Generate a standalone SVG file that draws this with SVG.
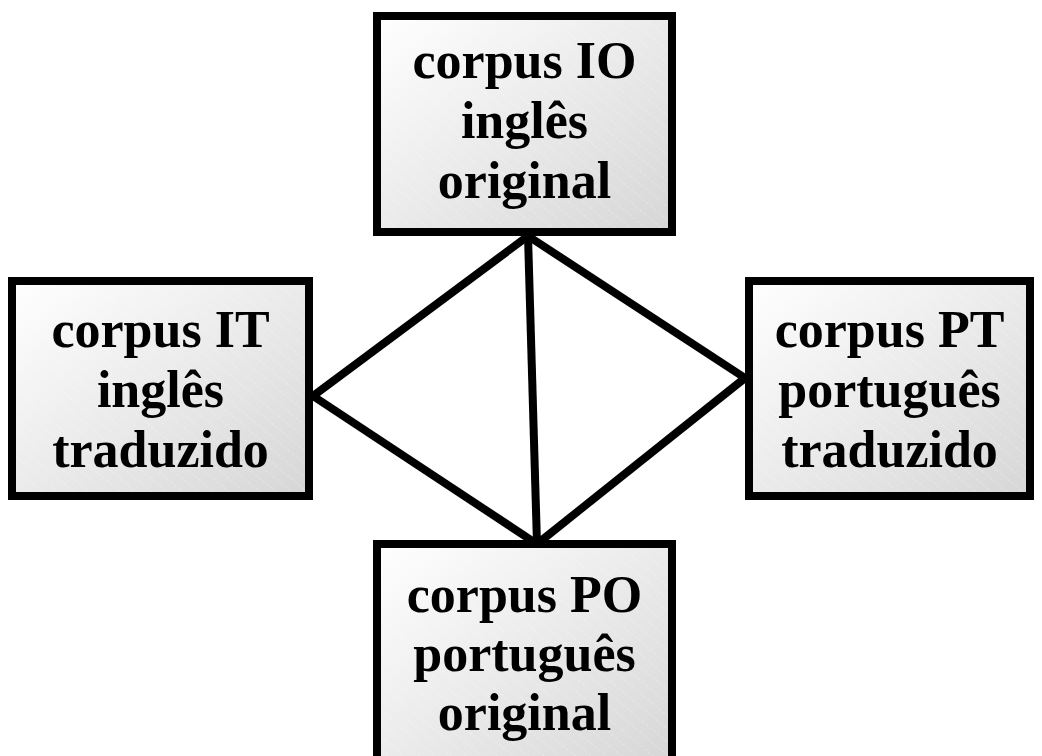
<svg xmlns="http://www.w3.org/2000/svg" width="1042" height="756" viewBox="0 0 1042 756">
  <defs>
    <linearGradient id="boxFill" x1="0" y1="0" x2="1" y2="1">
      <stop offset="0" stop-color="#ffffff"/>
      <stop offset="1" stop-color="#d6d6d6"/>
    </linearGradient>
    <pattern id="hatch" width="10" height="10" patternUnits="userSpaceOnUse" patternTransform="rotate(-50)">
      <line x1="0" y1="0" x2="0" y2="10" stroke="#ffffff" stroke-width="1" stroke-dasharray="3 2" stroke-opacity="0.5"/>
    </pattern>
  </defs>
  <style>
    .box { fill: url(#boxFill); stroke: #000; stroke-width: 8; }
    .hatch { fill: url(#hatch); stroke: none; }
    .label { font-family: "Liberation Serif", "Times New Roman", serif; font-weight: bold; font-size: 52px; fill: #000; text-anchor: middle; }
    .link { stroke: #000; stroke-width: 8; fill: none; }
  </style>
  <rect width="1042" height="756" fill="#ffffff"/>

  <!-- connectors -->
  <g id="connectors">
    <line class="link" x1="528" y1="236" x2="313" y2="396"/>
    <line class="link" x1="528" y1="236" x2="745" y2="378"/>
    <line class="link" x1="528" y1="236" x2="537" y2="544"/>
    <line class="link" x1="313" y1="396" x2="537" y2="544"/>
    <line class="link" x1="745" y1="378" x2="537" y2="544"/>
  </g>

  <g id="node-io">
    <rect class="box" x="377" y="16" width="295" height="216"/>
    <rect class="hatch" x="381" y="20" width="287" height="208"/>
    <text class="label" x="524.5" y="78">corpus IO</text>
    <text class="label" x="524.5" y="138">inglês</text>
    <text class="label" x="524.5" y="198">original</text>
  </g>

  <g id="node-it">
    <rect class="box" x="12" y="281" width="297" height="215"/>
    <rect class="hatch" x="16" y="285" width="289" height="207"/>
    <text class="label" x="160.5" y="347">corpus IT</text>
    <text class="label" x="160.5" y="407">inglês</text>
    <text class="label" x="160.5" y="467">traduzido</text>
  </g>

  <g id="node-pt">
    <rect class="box" x="749" y="281" width="281" height="215"/>
    <rect class="hatch" x="753" y="285" width="273" height="207"/>
    <text class="label" x="889.5" y="347">corpus PT</text>
    <text class="label" x="889.5" y="407">português</text>
    <text class="label" x="889.5" y="467">traduzido</text>
  </g>

  <g id="node-po">
    <rect class="box" x="377" y="544" width="295" height="222"/>
    <rect class="hatch" x="381" y="548" width="287" height="214"/>
    <text class="label" x="524.5" y="612">corpus PO</text>
    <text class="label" x="524.5" y="671">português</text>
    <text class="label" x="524.5" y="730">original</text>
  </g>
</svg>
